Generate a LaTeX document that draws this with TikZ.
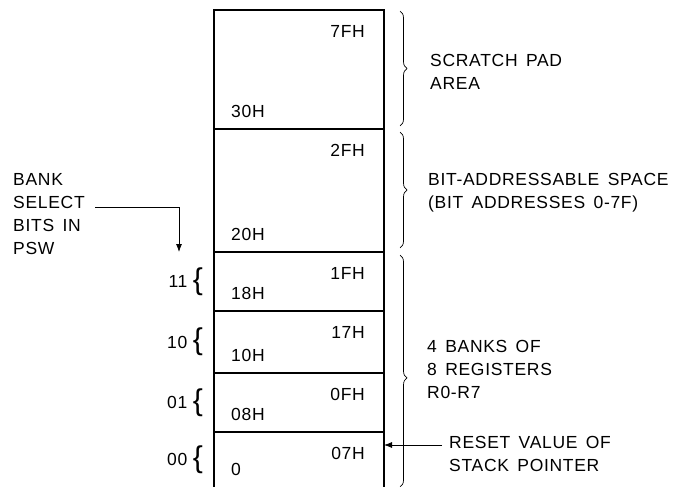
\documentclass[tikz,border=0pt]{standalone}
\usepackage{fontspec}
\setmainfont[LetterSpace=4, WordSpace=1.5]{Liberation Sans}
\usetikzlibrary{arrows.meta, positioning, decorations.pathreplacing}

\begin{document}
\begin{tikzpicture}[x=1pt, y=-1pt,
					>={Latex[length=8pt, width=6pt]},   %Pfeilspitzen
					font=\fontsize{17.5}{23}\selectfont,
					mem/.style={draw, line width=2pt, minimum width=170pt, inner sep=0pt, outer sep=0pt},
					addr/.style={inner sep=0pt},
					txt/.style={align=left, inner sep=0pt, anchor=west},
					rbrace/.style={decorate, decoration={brace, amplitude=7pt}, line width=0.7pt},
					lbrace/.style={inner sep=0pt, font=\fontsize{30}{30}\selectfont}]
					%Bildbereich
					\useasboundingbox (0,0) rectangle (689,487);
					% Speicherbereiche
					\node[mem, minimum height=119pt, anchor=north west] (scr) at (214,10) {};
					\node[mem, minimum height=123pt, below=0pt of scr] (bit) {};
					\node[mem, minimum height=59pt, below=0pt of bit] (rb3) {};
					\node[mem, minimum height=62pt, below=0pt of rb3] (rb2) {};
					\node[mem, minimum height=59pt, below=0pt of rb2] (rb1) {};
					\node[mem, draw=none, minimum height=55pt, below=0pt of rb1] (rb0) {};
					\draw[line width=2pt] (rb0.south west) -- (rb0.north west) (rb0.north east) -- (rb0.south east);
					% Adressen
					\foreach \blk/\hi/\lo in {scr/7FH/30H, bit/2FH/20H, rb3/1FH/18H, rb2/17H/10H, rb1/0FH/08H, rb0/07H/0} {
						\node[addr, anchor=east] (hi\blk) at ([xshift=-19pt, yshift=-21pt]\blk.north east) {\hi};
						\node[addr, anchor=west] (lo\blk) at ([xshift=17pt, yshift=18pt]\blk.south west) {\lo};
					}
					% Klammern rechts
					\draw[rbrace] ([xshift=16pt, yshift=-1pt]scr.north east) -- ([xshift=16pt, yshift=3pt]scr.south east);
					\draw[rbrace] ([xshift=16pt, yshift=-3pt]bit.north east) -- ([xshift=16pt, yshift=4pt]bit.south east);
					\draw[rbrace, decoration={aspect=0.53}] ([xshift=16pt, yshift=-3pt]rb3.north east) -- ([xshift=16pt]rb0.south east);
					% Beschriftung rechts
					\node[txt] (scrtxt) at (430,72) {SCRATCH PAD\\AREA};
					\node[txt] (bittxt) at (428,193) {BIT-ADDRESSABLE SPACE\\(BIT ADDRESSES 0-7F)};
					\node[txt] (regtxt) at (427,369) {4 BANKS OF\\8 REGISTERS\\R0-R7};
					\node[txt] (rsttxt) at (449,454) {RESET VALUE OF\\STACK POINTER};
					\coordinate (rstin) at (442,445);
					\draw[->, line width=0.8pt] (rstin) -- (rstin -| rb0.east);
					% Bankauswahl links
					\node[txt] (bsel) at (13,214) {BANK\\SELECT\\BITS IN\\PSW};
					\coordinate (selend) at (95,207);
					\coordinate (seltip) at (179,252);
					\draw[->, line width=0.8pt] (selend) -| (seltip);
					\foreach \bits/\bank in {11/rb3, 10/rb2, 01/rb1, 00/rb0} {
						\node[lbrace, anchor=east] (br\bits) at ([xshift=-11pt]\bank.west) {\{};
						\node[addr, left=5pt of br\bits] (n\bits) {\bits};
					}
				\end{tikzpicture}
\end{document}
